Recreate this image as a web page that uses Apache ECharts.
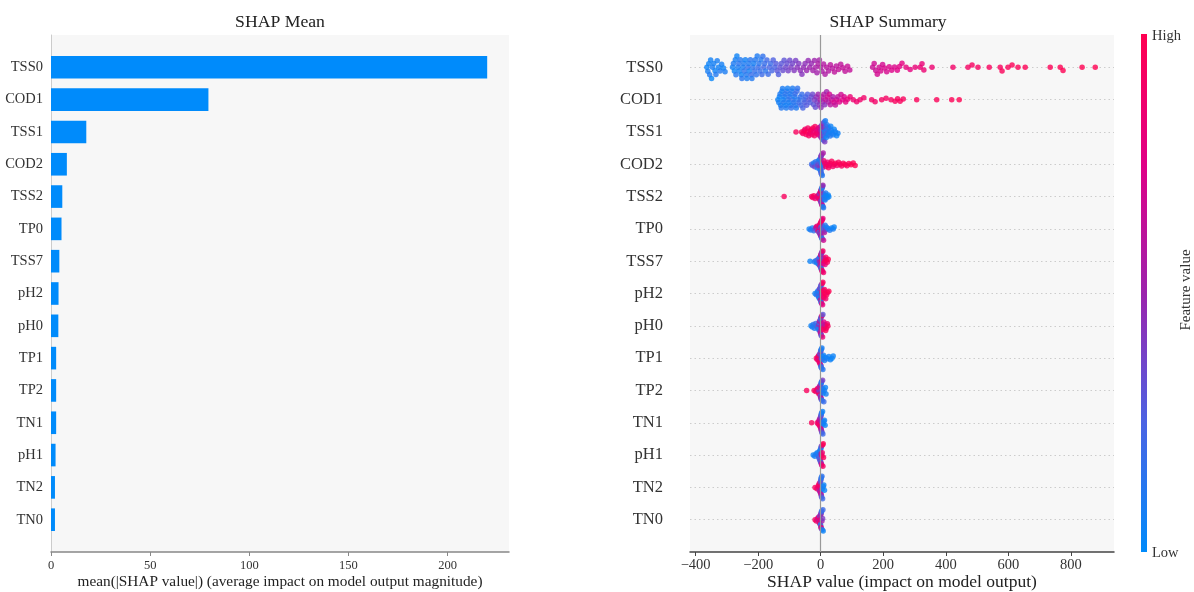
<!DOCTYPE html>
<html><head><meta charset="utf-8">
<script src="https://cdn.jsdelivr.net/npm/echarts@6/dist/echarts.min.js"></script>
<style>html,body{margin:0;padding:0;background:#fff}#c{width:1194px;height:592px}</style>
</head><body><div id="c"></div>
<script>
// ---------- DATA ----------
const features = ['TSS0','COD1','TSS1','COD2','TSS2','TP0','TSS7','pH2','pH0','TP1','TP2','TN1','pH1','TN2','TN0'];
const meanAbsShap = [220, 79.4, 17.8, 8.0, 5.7, 5.3, 4.2, 3.8, 3.7, 2.6, 2.6, 2.6, 2.3, 2.0, 2.0];
const leftTitle = 'SHAP Mean';
const rightTitle = 'SHAP Summary';
const leftXName = 'mean(|SHAP value|) (average impact on model output magnitude)';
const rightXName = 'SHAP value (impact on model output)';
const colorbarLabels = ['High', 'Low', 'Feature value'];

// [shap value, normalized feature value (0 low .. 1 high)]
const sTSS0 = [[-364,.04],[-361,.08],[-358,.05],[-355,.1],[-352,.06],[-349,.03],[-346,.09],[-342,.07],[-338,.05],[-335,.11],[-331,.08],[-327,.06],[-322,.1],[-317,.07],[-311,.05],[-306,.09],
[-282,.06],[-279,.1],[-276,.04],[-273,.08],[-271,.12],[-268,.05],[-265,.09],[-262,.14],[-260,.07],[-257,.11],[-254,.05],[-252,.13],[-249,.08],[-246,.1],[-244,.15],[-241,.06],[-238,.12],[-236,.09],[-233,.16],[-230,.1],[-228,.07],[-225,.13],[-222,.18],[-220,.11],[-217,.14],[-214,.08],[-211,.17],[-209,.12],[-206,.15],[-203,.1],[-200,.19],[-197,.14],[-194,.17],[-191,.12],[-188,.2],[-185,.16],[-182,.22],[-179,.18],[-176,.14],[-172,.21],[-168,.19],[-164,.24],[-160,.2],[-156,.23],[-152,.26],
[-147,.25],[-143,.28],[-139,.3],[-135,.27],[-130,.32],[-126,.3],[-121,.34],[-117,.31],[-112,.36],[-108,.33],[-104,.38],[-99,.35],[-95,.4],[-90,.37],[-85,.42],[-80,.39],[-75,.44],[-70,.41],[-65,.46],[-60,.43],[-55,.47],[-50,.45],[-45,.49],[-40,.47],[-35,.5],[-30,.48],[-25,.52],
[-20,.5],[-16,.54],[-12,.52],[-8,.56],[-4,.53],[0,.57],[4,.55],[9,.58],[14,.56],[19,.6],[25,.58],[31,.61],[37,.6],[44,.62],[50,.61],[57,.63],[64,.62],[71,.64],[78,.63],[86,.65],[93,.64],
[166,.66],[171,.68],[176,.67],[181,.7],[187,.69],[192,.71],[198,.7],[204,.72],[211,.71],[219,.73],[227,.74],[236,.73],[245,.75],[252,.76],
[260,.78],[273,.8],[286,.79],[302,.82],[318,.84],[324,.83],[330,.85],[356,.86],[423,.9],[471,.92],[484,.93],[503,.93],[539,.95],[574,.95],[580,.96],[599,.96],[612,.97],[631,.97],[654,.98],[734,.98],[766,.99],[775,.99],[836,1],[878,1]];
const sCOD1 = [[-137,.05],[-134,.08],[-132,.04],[-130,.1],[-128,.06],[-126,.12],[-124,.07],[-122,.09],[-120,.05],[-118,.11],[-116,.08],[-114,.13],[-112,.06],[-110,.1],[-108,.14],[-106,.07],[-104,.12],[-102,.09],[-100,.15],[-98,.11],[-96,.08],[-94,.16],[-92,.12],[-90,.1],[-88,.17],[-86,.13],[-84,.09],[-82,.18],[-80,.14],[-78,.11],[-76,.2],[-74,.15],[-72,.12],[-69,.19],[-66,.16],[-63,.22],[-60,.18],[-57,.24],[-54,.2],[-51,.26],[-48,.22],[-45,.28],[-42,.25],[-38,.3],[-34,.27],[-30,.32],
[-26,.35],[-23,.3],[-20,.4],[-17,.33],[-14,.45],[-11,.38],[-8,.5],[-5,.42],[-2,.55],[1,.46],[4,.6],[7,.5],[10,.58],[13,.44],[16,.62],[19,.52],[22,.66],[25,.56],[28,.7],[31,.6],[35,.68],[39,.55],[43,.72],[47,.64],[51,.7],[55,.62],[60,.74],[65,.68],[70,.76],[75,.72],[80,.78],[86,.8],
[94,.84],[104,.86],[115,.87],[126,.88],[138,.89],[163,.9],[174,.9],[195,.92],[209,.92],[225,.93],[238,.94],[246,.94],[254,.95],[264,.95],[307,.96],[371,.97],[419,.98],[443,1]];
const sTSS1 = [[-79,.95],[-61,.96],[-57,.93],[-53,.97],[-50,.9],[-47,.94],[-44,.98],[-41,.92],[-38,.95],[-35,.88],[-33,.93],[-30,.97],[-28,.9],[-25,.94],[-23,.86],[-20,.91],[-18,.95],[-15,.84],[-13,.89],[-10,.8],[-8,.87],[-6,.75],[-4,.82],[-2,.7],
[0,.65],[1,.5],[2,.4],[3,.6],[4,.3],[5,.45],[6,.2],[7,.55],[8,.35],[9,.15],[10,.48],[11,.25],[12,.1],[13,.4],[14,.2],[15,.08],[16,.3],[17,.12],[18,.05],[19,.22],[20,.1],[22,.15],[24,.04],[26,.18],[28,.08],[30,.12],[32,.05],[34,.1],[37,.06],[40,.09],[43,.04],[47,.07],[51,.05],[55,.06]];
const sCOD2 = [[-29,.2],[-26,.3],[-22,.1],[-19,.35],[-16,.15],[-13,.25],[-11,.05],[-9,.4],[-7,.12],[-5,.3],[-4,.08],[-3,.2],[-2,.45],[-1,.1],[0,.18],[0,.35],[1,.06],[1,.28],[2,.15],[2,.5],[3,.1],[3,.22],[4,.4],[5,.12],[6,.3],[7,.08],[8,.55],
[10,.85],[13,.9],[16,.88],[19,.93],[22,.87],[25,.95],[28,.9],[31,.92],[35,.96],[39,.89],[43,.94],[47,.97],[52,.91],[57,.95],[62,.98],[67,.93],[72,.96],[78,.99],[84,.95],[90,.97],[97,1],[104,.98],[110,1]];
const sTSS2 = [[-117,.95],[-29,.92],[-26,.9],[-22,.96],[-18,.88],[-12,.85],[-9,.8],[-7,.93],[-5,.6],[-4,.9],[-3,.4],[-2,.85],[-1,.7],[0,.5],[0,.95],[1,.3],[1,.8],[2,.55],[2,.2],[3,.9],[3,.35],[4,.15],[4,.75],[5,.45],[5,.1],[6,.6],[6,.25],[7,.05],[7,.5],[8,.2],[9,.12],[10,.35],[11,.08],[12,.18],[14,.06],[16,.1],[18,.04],[21,.08],[24,.05],[26,.03]];
const sTP0 = [[-37,.05],[-32,.1],[-27,.08],[-22,.15],[-18,.3],[-15,.6],[-12,.85],[-10,.4],[-8,.9],[-6,.7],[-5,.2],[-4,.95],[-3,.5],[-2,.8],[-1,.35],[0,.9],[0,.6],[1,.15],[1,.95],[2,.75],[2,.45],[3,.88],[3,.25],[4,.65],[5,.92],[5,.1],[6,.55],[7,.8],[8,.3],[9,.7],[10,.2],[12,.6],[14,.12],[16,.4],[19,.08],[24,.06],[29,.1],[35,.05],[40,.08],[43,.04]];
const sTSS7 = [[-34,.05],[-20,.1],[-16,.15],[-13,.08],[-10,.2],[-8,.12],[-6,.3],[-5,.05],[-4,.5],[-3,.18],[-2,.7],[-1,.1],[0,.4],[0,.85],[1,.25],[1,.6],[2,.9],[2,.15],[3,.75],[3,.35],[4,.95],[4,.5],[5,.8],[6,.3],[7,.92],[8,.65],[9,.88],[10,.45],[12,.95],[14,.8],[16,.9],[18,.97],[21,.93],[24,.98]];
const sPH2 = [[-18,.05],[-14,.1],[-11,.15],[-9,.08],[-7,.3],[-6,.12],[-5,.2],[-4,.05],[-3,.4],[-2,.1],[-1,.55],[0,.18],[0,.35],[1,.65],[1,.08],[2,.45],[2,.25],[3,.7],[4,.85],[5,.92],[6,.8],[7,.95],[8,.88],[9,.97],[10,.9],[12,.93],[14,.99],[16,.9],[19,.96],[22,.92],[26,1]];
const sPH0 = [[-31,.05],[-27,.08],[-24,.12],[-20,.1],[-16,.2],[-13,.15],[-10,.3],[-8,.05],[-6,.45],[-5,.2],[-4,.6],[-3,.1],[-2,.5],[-1,.35],[0,.7],[0,.15],[1,.55],[1,.4],[2,.8],[2,.25],[3,.65],[4,.9],[5,.5],[6,.85],[7,.3],[8,.95],[10,.75],[12,.9],[14,.6],[16,.97],[18,.92],[21,.88],[23,.95]];
const sTP1 = [[-14,.95],[-11,.9],[-9,.85],[-7,.97],[-6,.7],[-5,.92],[-4,.5],[-3,.88],[-2,.3],[-1,.8],[0,.6],[0,.15],[1,.45],[1,.05],[2,.35],[2,.1],[3,.25],[4,.08],[5,.2],[6,.05],[7,.12],[9,.06],[12,.1],[16,.04],[21,.08],[26,.05],[31,.06],[36,.03],[40,.05]];
const sTP2 = [[-45,.95],[-21,.97],[-16,.92],[-12,.85],[-9,.9],[-7,.6],[-6,.95],[-5,.4],[-4,.8],[-3,.5],[-2,.88],[-1,.3],[0,.7],[0,.45],[1,.2],[1,.6],[2,.1],[2,.35],[3,.55],[3,.15],[4,.25],[5,.08],[6,.4],[7,.12],[8,.05],[10,.2],[12,.08],[15,.04],[17,.06]];
const sTN1 = [[-29,.95],[-11,.9],[-8,.85],[-6,.95],[-5,.7],[-4,.88],[-3,.6],[-2,.92],[-1,.5],[0,.8],[0,.4],[1,.65],[1,.3],[2,.55],[2,.2],[3,.45],[3,.1],[4,.3],[5,.15],[6,.05],[7,.2],[8,.08],[10,.12],[12,.05],[14,.03]];
const sPH1 = [[-24,.05],[-19,.08],[-15,.1],[-11,.06],[-8,.15],[-6,.1],[-5,.3],[-4,.05],[-3,.2],[-2,.12],[-1,.4],[0,.08],[0,.25],[1,.5],[1,.15],[2,.6],[2,.35],[3,.75],[4,.85],[5,.9],[6,.95],[7,.92],[8,.98],[9,.96]];
const sTN2 = [[-18,.95],[-12,.92],[-8,.88],[-6,.95],[-5,.7],[-4,.9],[-3,.5],[-2,.85],[-1,.4],[0,.75],[0,.3],[1,.6],[1,.2],[2,.45],[2,.1],[3,.3],[4,.15],[5,.05],[6,.2],[8,.08],[10,.05],[12,.03]];
const sTN0 = [[-18,.95],[-14,.9],[-10,.7],[-7,.85],[-5,.5],[-4,.95],[-3,.35],[-2,.8],[-1,.2],[0,.6],[0,.1],[1,.45],[1,.9],[2,.3],[2,.65],[3,.15],[4,.5],[5,.08],[6,.4],[7,.2],[8,.05]];
const shapRows = [sTSS0,sCOD1,sTSS1,sCOD2,sTSS2,sTP0,sTSS7,sPH2,sPH0,sTP1,sTP2,sTN1,sPH1,sTN2,sTN0];

// ---------- STYLE / LAYOUT ----------
const FONT = '"Liberation Serif", "Times New Roman", serif';
const BLUE = '#008bfb';
const CMAP = ['#008bfb','#4b63e3','#9c23ad','#e00086','#ff0051'];
const L = {left:51, right:509, top:35, bottom:552};
const R = {left:690, right:1114, top:35, bottom:552};
const RX_MIN = -418, RX_MAX = 938;
const ROW_PX = (R.bottom - R.top) / 16;
const PX_PER_UNIT = (R.right - R.left) / (RX_MAX - RX_MIN);

// beeswarm layout (collision based, per row, normalised like SHAP's row height)
function swarmOffsets(points){
  const D = 5, LIMIT = 11.3;
  const order = points.map((p,i)=>i).sort((a,b)=>points[a][0]-points[b][0]);
  const placed = []; const off = new Array(points.length).fill(0);
  let flip = 1;
  for (const i of order){
    const x = points[i][0]*PX_PER_UNIT;
    const near = placed.filter(q=>Math.abs(q.x-x)<D);
    const cands = [0];
    near.forEach(q=>{const dy=Math.sqrt(D*D-(q.x-x)*(q.x-x)); cands.push(q.y+dy, q.y-dy);});
    cands.sort((a,b)=>(Math.abs(a)-Math.abs(b)) || (flip*(b-a)));
    let y = 0;
    for (const c of cands){
      if (near.every(q=>(q.x-x)*(q.x-x)+(q.y-c)*(q.y-c) >= D*D-1e-6)){ y=c; break; }
    }
    if (y !== 0) flip = -flip;
    placed.push({x,y}); off[i]=y;
  }
  const m = Math.max(...off.map(Math.abs));
  const s = m > LIMIT ? LIMIT/m : 1;
  return off.map(o=>o*s/ROW_PX);
}
const scatterData = [];
shapRows.forEach((pts, r)=>{
  const off = swarmOffsets(pts);
  pts.forEach((p,i)=>scatterData.push([p[0], r+off[i], p[1]]));
});

const chart = echarts.init(document.getElementById('c'), null, {renderer:'canvas'});
const txt = {fontFamily: FONT, color:'#333'};
chart.setOption({
  animation:false,
  backgroundColor:'#fff',
  grid:[
    {left:L.left, top:L.top, width:L.right-L.left, height:L.bottom-L.top, show:true, backgroundColor:'#f7f7f7', borderWidth:0, containLabel:false, outerBoundsMode:'none'},
    {left:R.left, top:R.top, width:R.right-R.left, height:R.bottom-R.top, show:true, backgroundColor:'#f7f7f7', borderWidth:0, containLabel:false, outerBoundsMode:'none'}
  ],
  xAxis:[
    {type:'value', gridIndex:0, min:0, max:231, interval:50,
     axisLine:{show:true, onZero:false, lineStyle:{color:'#888', width:1.5}},
     axisTick:{show:true, length:4, lineStyle:{color:'#888'}},
     axisLabel:Object.assign({fontSize:12.5, margin:7, showMaxLabel:false}, txt),
     splitLine:{show:false},
     name:leftXName, nameLocation:'middle', nameGap:22, nameMoveOverlap:false,
     nameTextStyle:{fontFamily:FONT, fontSize:15.3, color:'#222'}},
    {type:'value', gridIndex:1, min:RX_MIN, max:RX_MAX, splitNumber:7,
     axisLine:{show:true, onZero:false, lineStyle:{color:'#444', width:1.5}},
     axisTick:{show:true, length:4, lineStyle:{color:'#444'}},
     axisLabel:Object.assign({fontSize:14.5, margin:6, showMinLabel:false, showMaxLabel:false,
        formatter:v=>String(v).replace('-','\u2212')}, txt),
     splitLine:{show:false},
     name:rightXName, nameLocation:'middle', nameGap:21, nameMoveOverlap:false,
     nameTextStyle:{fontFamily:FONT, fontSize:17.5, color:'#222'}}
  ],
  yAxis:[
    {type:'category', gridIndex:0, data:features, inverse:true, boundaryGap:false, min:-1, max:15,
     axisLine:{show:true, onZero:false, lineStyle:{color:'#ccc', width:1}},
     axisTick:{show:false},
     axisLabel:Object.assign({fontSize:14.5, margin:8, interval:0,
        formatter:v=>features.indexOf(v)>=0 ? v : ''}, txt),
     splitLine:{show:false}},
    {type:'value', gridIndex:1, min:-1, max:15, interval:1, inverse:true,
     axisLine:{show:false}, axisTick:{show:false},
     axisLabel:Object.assign({fontSize:16.5, margin:27, formatter:v=>features[v]||''}, txt),
     splitLine:{show:true, showMinLine:false, showMaxLine:false, lineStyle:{type:[1.5,3], color:'#ccc', width:1}}}
  ],
  visualMap:{show:false, type:'continuous', min:0, max:1, dimension:2, seriesIndex:1, inRange:{color:CMAP}},
  series:[
    {type:'bar', xAxisIndex:0, yAxisIndex:0, data:meanAbsShap, barWidth:'70%', itemStyle:{color:BLUE}, silent:true},
    {type:'scatter', xAxisIndex:1, yAxisIndex:1, data:scatterData, symbolSize:5.5, silent:true,
     markLine:{silent:true, symbol:'none', label:{show:false}, lineStyle:{color:'#999', width:1.2, type:'solid'}, data:[{xAxis:0}]}}
  ],
  graphic:[
    {type:'text', x:(L.left+L.right)/2, y:22, style:{text:leftTitle, font:'17.7px '+FONT, fill:'#222', textAlign:'center', textVerticalAlign:'middle'}},
    {type:'text', x:888, y:22, style:{text:rightTitle, font:'17.5px '+FONT, fill:'#222', textAlign:'center', textVerticalAlign:'middle'}},
    {type:'rect', shape:{x:1141, y:34, width:6, height:518},
     style:{fill:new echarts.graphic.LinearGradient(0,1,0,0, CMAP.map((c,i)=>({offset:i/(CMAP.length-1), color:c})))}},
    {type:'text', x:1152, y:36, style:{text:colorbarLabels[0], font:'14.5px '+FONT, fill:'#333', textVerticalAlign:'middle'}},
    {type:'text', x:1152, y:553, style:{text:colorbarLabels[1], font:'14.5px '+FONT, fill:'#333', textVerticalAlign:'middle'}},
    {type:'text', x:1186, y:290, rotation:Math.PI/2, style:{text:colorbarLabels[2], font:'15px '+FONT, fill:'#333', textAlign:'center', textVerticalAlign:'middle'}}
  ]
});
</script></body></html>
